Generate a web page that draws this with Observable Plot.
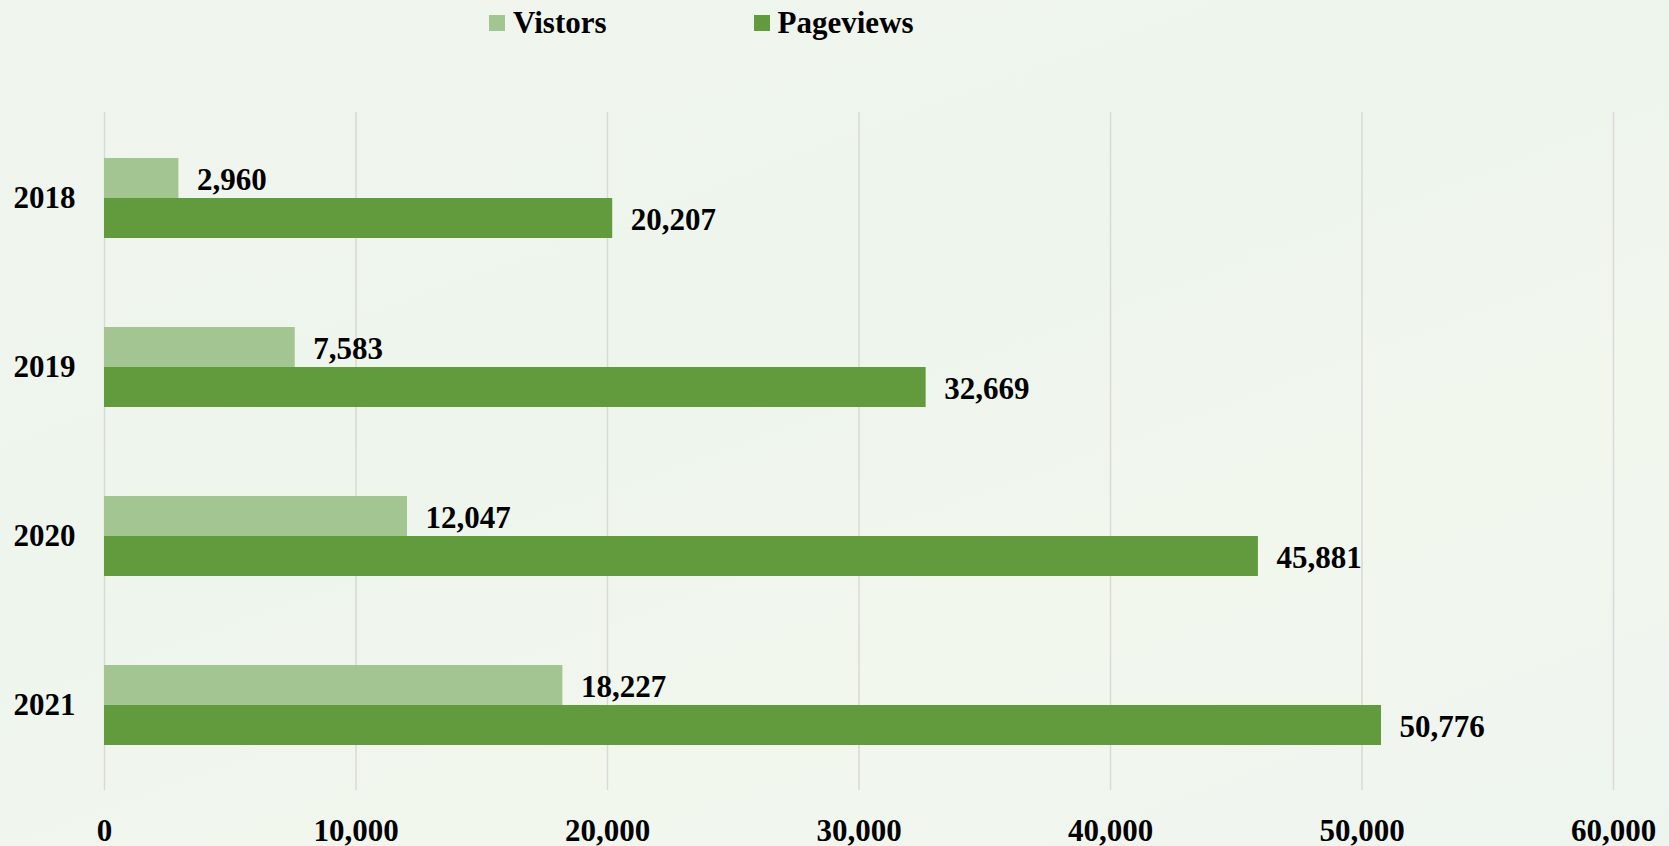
<!DOCTYPE html>
<html>
<head>
<meta charset="utf-8">
<script src="https://cdn.jsdelivr.net/npm/d3@7"></script>
<script src="https://cdn.jsdelivr.net/npm/@observablehq/plot@0.6"></script>
<style>
  html, body { margin: 0; padding: 0; }
  body {
    width: 1669px; height: 846px; overflow: hidden;
    background: linear-gradient(160deg, #f0f6ee 0%, #eef5ec 45%, #f2f7ee 70%, #eef5ef 100%);
    font-family: "Liberation Serif", "Times New Roman", serif;
  }
  #legend {
    height: 44px; position: relative;
    display: flex; align-items: center;
    padding-left: 489px; gap: 147px;
    font-weight: bold; font-size: 31px; color: #000;
    transform: translateY(1px);
  }
  .item { display: flex; align-items: center; gap: 8px; }
  .sw { width: 16px; height: 16px; display: inline-block; }
</style>
</head>
<body>
<div id="legend"></div>
<div id="chart"></div>
<script>
const years = ["2018", "2019", "2020", "2021"];
const visitors = [2960, 7583, 12047, 18227];
const pageviews = [20207, 32669, 45881, 50776];
const seriesNames = ["Vistors", "Pageviews"];
const seriesColors = ["#a2c592", "#629a3e"];
const xTicks = [0, 10000, 20000, 30000, 40000, 50000, 60000];

const vData = years.map((y, i) => ({year: y, value: visitors[i]}));
const pData = years.map((y, i) => ({year: y, value: pageviews[i]}));

const legend = document.getElementById("legend");
seriesNames.forEach((n, i) => {
  const it = document.createElement("div");
  it.className = "item";
  it.innerHTML = `<span class="sw" style="background:${seriesColors[i]}"></span><span>${n}</span>`;
  legend.appendChild(it);
});

const fmt = d3.format(",");
const font = "Liberation Serif, Times New Roman, serif";

const chart = Plot.plot({
  width: 1669,
  height: 802,
  marginTop: 68,
  marginBottom: 56,
  marginLeft: 104,
  marginRight: 56,
  style: {background: "transparent", fontFamily: font, fontSize: "31px", fontWeight: "bold", color: "#000", overflow: "visible"},
  x: {domain: [0, 60000], ticks: xTicks, tickFormat: fmt, label: null},
  y: {domain: years, paddingInner: 0.528, paddingOuter: 0.264, label: null},
  marks: [
    Plot.gridX(xTicks, {stroke: "#d9d9d9", strokeOpacity: 1, strokeWidth: 1.5}),
    Plot.barX(vData, {y: "year", x: "value", fill: seriesColors[0], insetBottom: 40}),
    Plot.barX(pData, {y: "year", x: "value", fill: seriesColors[1], insetTop: 40}),
    Plot.text(vData, {y: "year", x: "value", text: d => fmt(d.value), dx: 18, dy: -18, textAnchor: "start", fontSize: 31, fontWeight: "bold", fill: "#000"}),
    Plot.text(pData, {y: "year", x: "value", text: d => fmt(d.value), dx: 18, dy: 22, textAnchor: "start", fontSize: 31, fontWeight: "bold", fill: "#000"}),
    Plot.axisX({ticks: xTicks, tickFormat: fmt, tickSize: 0, tickPadding: 28, label: null, fontSize: 31, fontWeight: "bold"}),
    Plot.axisY({tickSize: 0, tickPadding: 29, label: null, fontSize: 31, fontWeight: "bold"})
  ]
});
document.getElementById("chart").appendChild(chart);
</script>
</body>
</html>
